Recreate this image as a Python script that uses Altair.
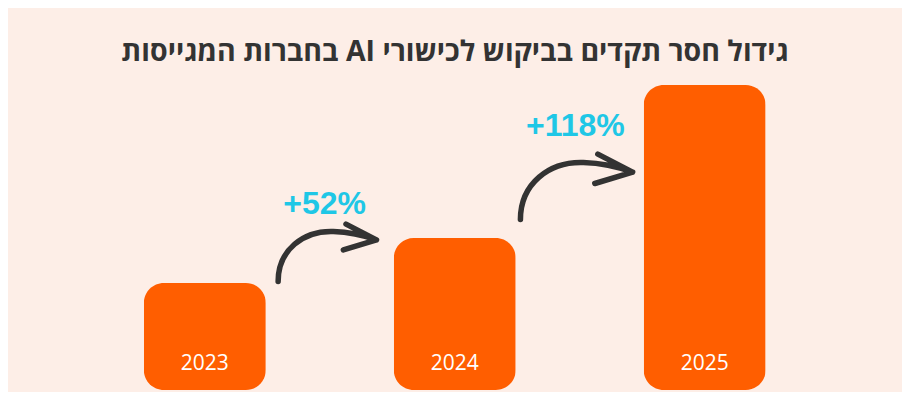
import altair as alt
import pandas as pd

# ---------------- data ----------------
TITLE = "גידול חסר תקדים בביקוש לכישורי AI בחברות המגייסות"
years = ["2023", "2024", "2025"]
demand = [107, 152, 305]          # relative bar heights (no axis in the source)
growth_labels = ["+52%", "+118%"]  # growth between consecutive years

# ---------------- layout / style ----------------
BG = "#FDEEE7"
ORANGE = "#FF5E00"
CYAN = "#1FC7E6"
DARK = "#333333"

arrow_x = [0.489, 1.486]          # between-bar positions (index units)
arrow_y = [137.5, 203.5]
arrow_size = [11070, 14400]       # symbol area -> arrow scale
label_x = [0.479, 1.4825]
label_y = [186, 263.6]

ARROW_PATH = (
    "M-0.93,0.55C-0.93,-0.05,-0.45,-0.42,0.12,-0.4"
    "C0.45,-0.39,0.72,-0.32,0.94,-0.24"
    "M0.36,-0.54L0.94,-0.24L0.31,-0.05"
)

bars_df = pd.DataFrame({"year": years, "value": demand, "idx": list(range(len(years))), "zero": [0] * len(years)})
arrows_df = pd.DataFrame({"x": arrow_x, "y": arrow_y, "sz": arrow_size})
labels_df = pd.DataFrame({"label": growth_labels, "x": label_x, "y": label_y})

xs = alt.Scale(domain=[-0.7676, 2.7695], nice=False, zero=False)
ys = alt.Scale(domain=[0, 312], nice=False, zero=True)

bars = alt.Chart(bars_df).mark_bar(width=122, cornerRadius=20, color=ORANGE).encode(
    x=alt.X("idx:Q", scale=xs, axis=None),
    y=alt.Y("value:Q", scale=ys, axis=None),
)

year_text = alt.Chart(bars_df).mark_text(
    dy=-26, baseline="middle", align="center", color="white",
    font="Open Sans", fontSize=21, fontWeight=500,
).encode(
    x=alt.X("idx:Q", scale=xs, axis=None),
    y=alt.Y("zero:Q", scale=ys, axis=None),
    text="year:N",
)

arrows = alt.Chart(arrows_df).mark_point(
    shape=ARROW_PATH, filled=False, strokeWidth=5.5, strokeCap="round",
    strokeJoin="round", color=DARK, opacity=1,
).encode(
    x=alt.X("x:Q", scale=xs, axis=None),
    y=alt.Y("y:Q", scale=ys, axis=None),
    size=alt.Size("sz:Q", scale=None, legend=None),
)

labels = alt.Chart(labels_df).mark_text(
    font="Liberation Sans", fontWeight="bold", fontSize=32, color=CYAN,
    baseline="middle", align="center",
).encode(
    x=alt.X("x:Q", scale=xs, axis=None),
    y=alt.Y("y:Q", scale=ys, axis=None),
    text="label:N",
)

chart = alt.layer(bars, year_text, arrows, labels).properties(
    width=894,
    height=312,
    padding={"left": 0, "top": 70, "right": 0, "bottom": 2},
    autosize=alt.AutoSizeParams(type="none"),
    background=BG,
    title=alt.TitleParams(
        text="\u202b" + TITLE + "\u202c",
        font="Open Sans", fontSize=28.5, fontWeight="bold", color=DARK,
        anchor="middle", baseline="middle", offset=-2,
    ),
).configure_view(stroke=None)

chart.save("out.html", embed_options={"renderer": "svg", "actions": False})
